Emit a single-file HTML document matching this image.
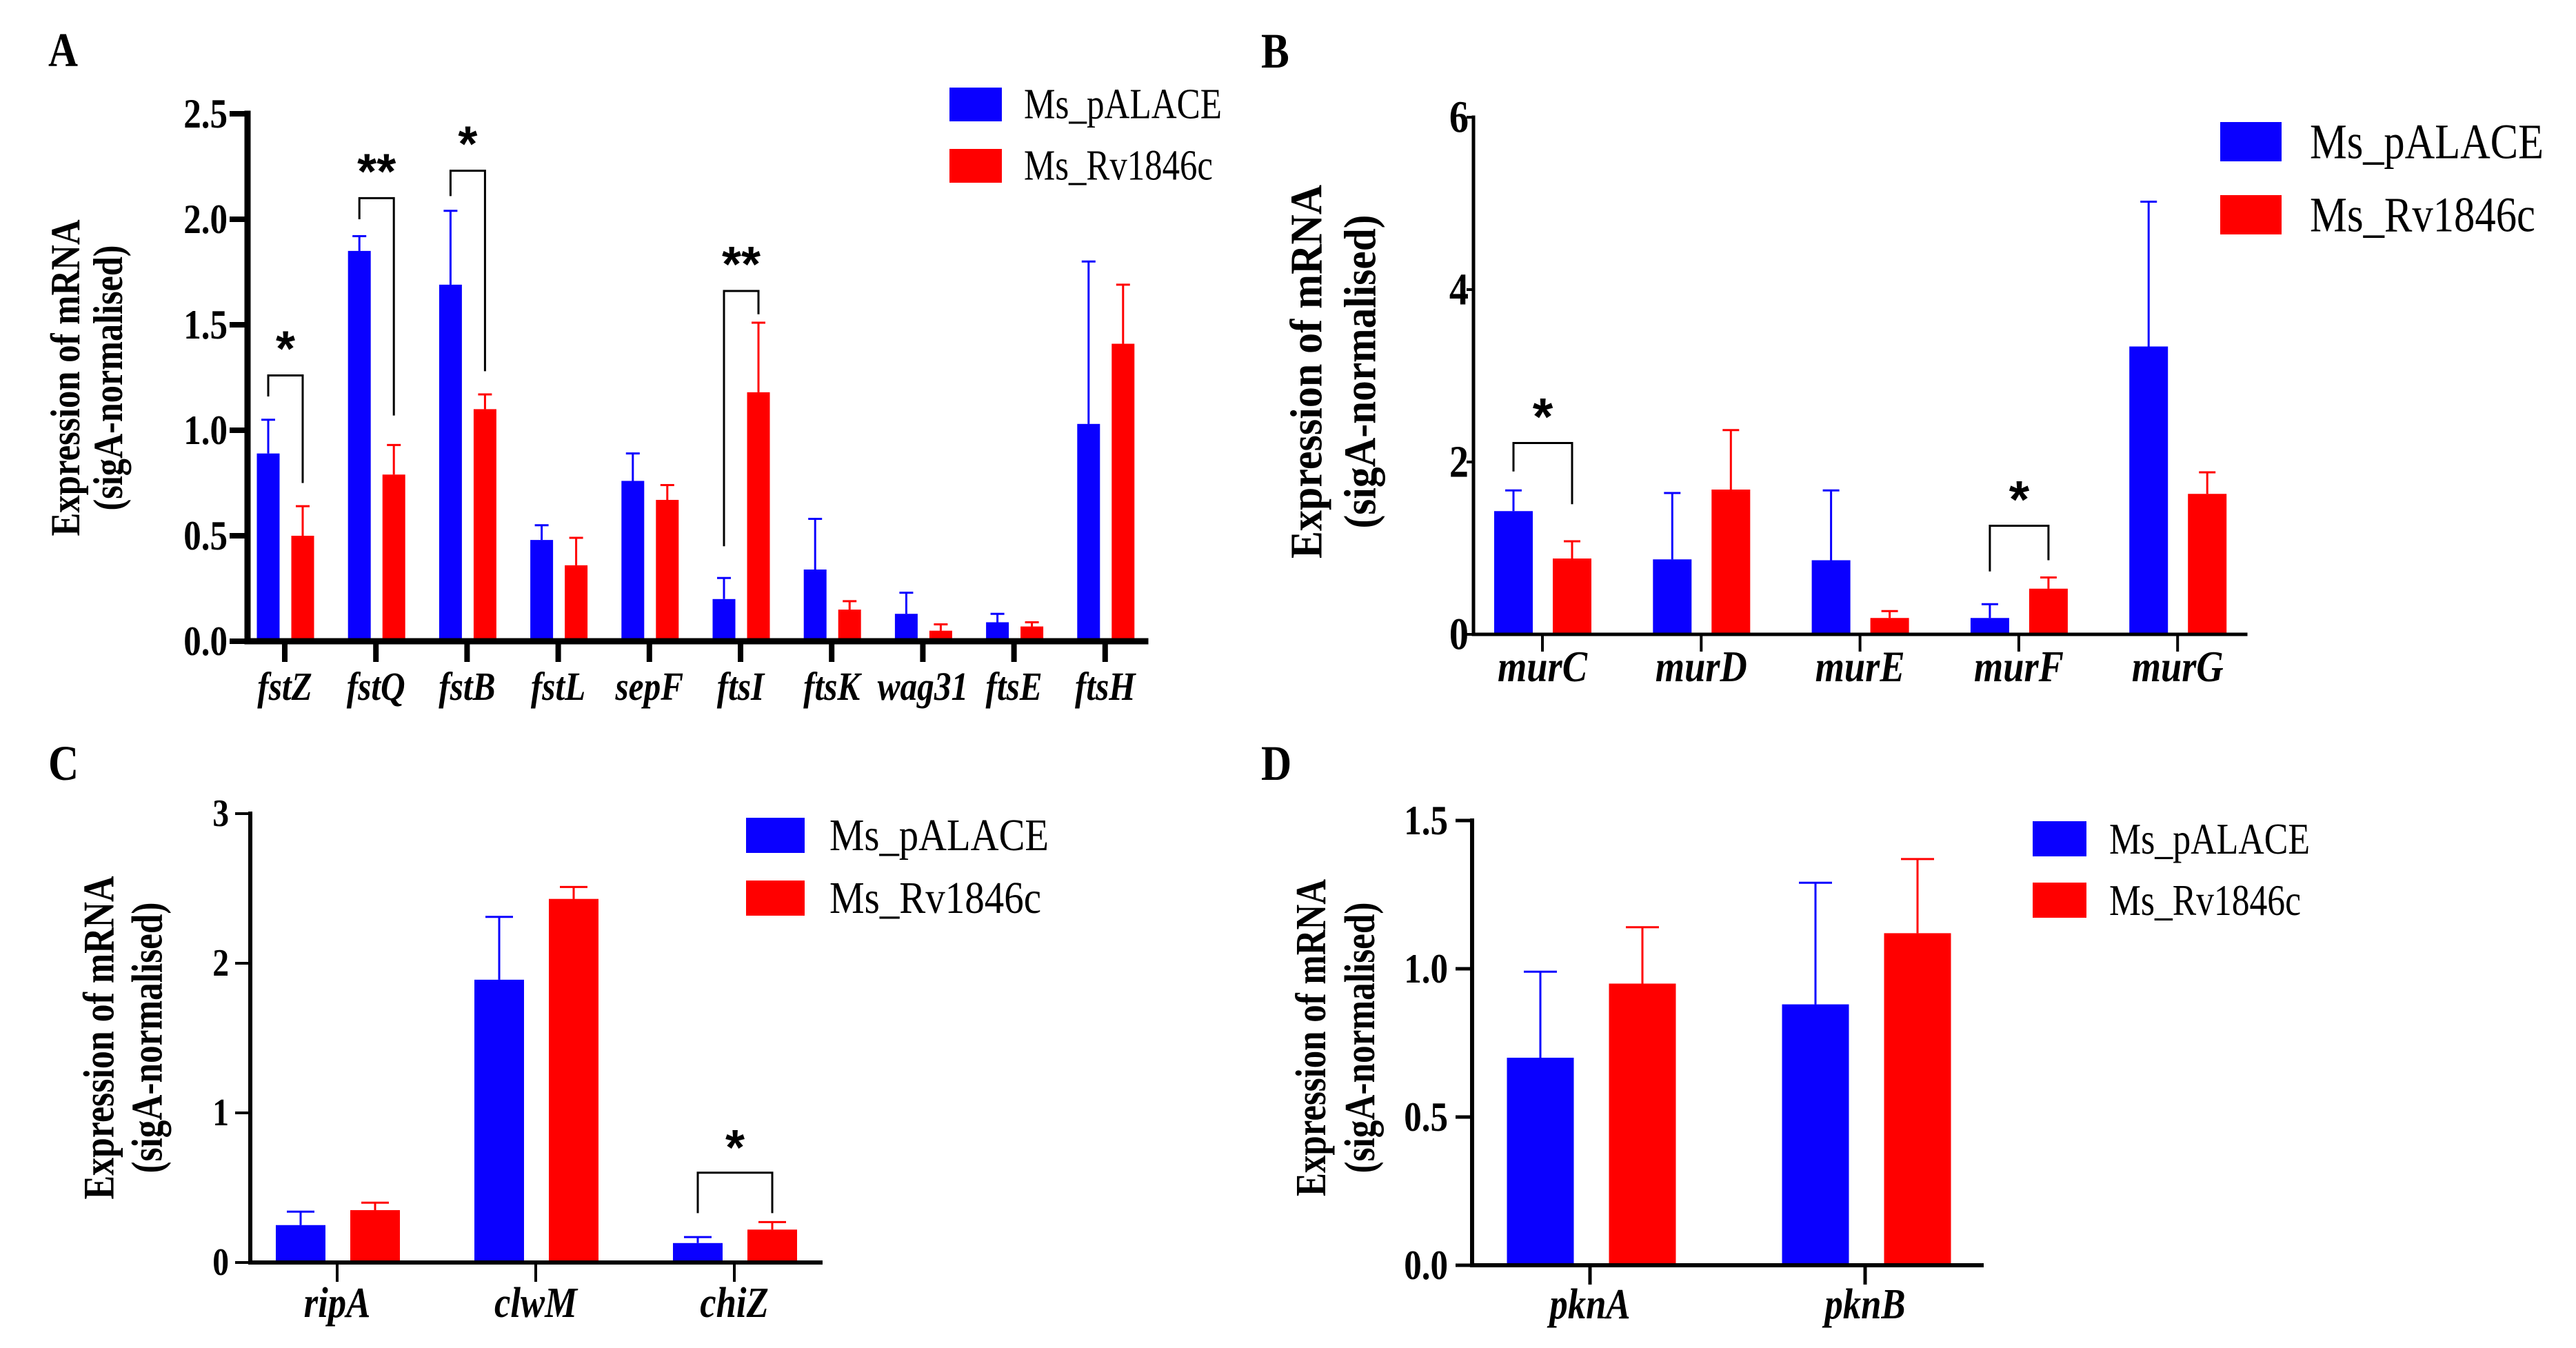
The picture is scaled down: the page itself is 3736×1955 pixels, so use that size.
<!DOCTYPE html>
<html><head><meta charset="utf-8">
<style>
html,body{margin:0;padding:0;background:#fff;}
svg{display:block;}
text{font-family:"Liberation Serif",serif;font-weight:bold;}
</style></head>
<body>
<svg id="fig" width="3736" height="1955" viewBox="0 0 3736 1955" xmlns="http://www.w3.org/2000/svg"></svg>
<script>
// Panel A data
const catsA = ["fstZ","fstQ","fstB","fstL","sepF","ftsI","ftsK","wag31","ftsE","ftsH"];
const blueA = [0.89,1.85,1.69,0.48,0.76,0.20,0.34,0.13,0.09,1.03];
const blueErrA = [1.05,1.92,2.04,0.55,0.89,0.30,0.58,0.23,0.13,1.80];
const redA = [0.50,0.79,1.10,0.36,0.67,1.18,0.15,0.05,0.07,1.41];
const redErrA = [0.64,0.93,1.17,0.49,0.74,1.51,0.19,0.08,0.09,1.69];
const ticksA = ["0.0","0.5","1.0","1.5","2.0","2.5"];
const tickValsA = [0,0.5,1,1.5,2,2.5];
const sigA = [[0,1.26,1.16,0.75,"*"],[1,2.10,2.00,1.07,"**"],[2,2.23,2.11,1.28,"*"],[5,1.66,0.45,1.55,"**"]];
// Panel B data
const catsB = ["murC","murD","murE","murF","murG"];
const blueB = [1.43,0.87,0.86,0.19,3.34];
const blueErrB = [1.67,1.64,1.67,0.35,5.02];
const redB = [0.88,1.68,0.19,0.53,1.63];
const redErrB = [1.08,2.37,0.27,0.66,1.88];
const ticksB = ["0","2","4","6"];
const tickValsB = [0,2,4,6];
const sigB = [[0,2.22,1.89,1.51,"*"],[3,1.26,0.73,0.86,"*"]];
// Panel C data
const catsC = ["ripA","clwM","chiZ"];
const blueC = [0.25,1.89,0.13];
const blueErrC = [0.34,2.31,0.17];
const redC = [0.35,2.43,0.22];
const redErrC = [0.40,2.51,0.27];
const ticksC = ["0","1","2","3"];
const tickValsC = [0,1,2,3];
const sigC = [[2,0.60,0.33,0.33,"*"]];
// Panel D data
const catsD = ["pknA","pknB"];
const blueD = [0.70,0.88];
const blueErrD = [0.99,1.29];
const redD = [0.95,1.12];
const redErrD = [1.14,1.37];
const ticksD = ["0.0","0.5","1.0","1.5"];
const tickValsD = [0,0.5,1,1.5];
const sigD = [];

const NS="http://www.w3.org/2000/svg";
const svg=document.getElementById('fig');
function mk(tag,attrs,parent,txt){
  const e=document.createElementNS(NS,tag);
  for(const k in attrs)e.setAttribute(k,attrs[k]);
  if(txt!==undefined)e.textContent=txt;
  (parent||svg).appendChild(e);return e;
}
function condense(el,f){
  try{const w=el.getComputedTextLength();if(w>0){el.setAttribute('textLength',(w*f).toFixed(1));el.setAttribute('lengthAdjust','spacingAndGlyphs');}}catch(e){}
}
const BLUE="#0a00ff",RED="#ff0000";

function panel(o){
  const g=mk('g',{});
  
  
  const y=v=>o.y0-(v/o.ymax)*(o.y0-o.ytop);
  const cx=i=>o.c0+i*o.step;
  const L=mk('text',{x:o.letter[0],y:o.letter[1],'font-size':o.letter[2]},g,o.id);
  
  
  condense(L,0.85);
  const t1=mk('text',{transform:`translate(${o.title[0]},${o.title[2]}) rotate(-90)`,'text-anchor':'middle','dominant-baseline':'central','font-size':o.title[4],textLength:o.title[5],lengthAdjust:'spacingAndGlyphs'},g,'Expression of mRNA');
  
  
  const t2=mk('text',{transform:`translate(${o.title[1]},${o.title[2]}) rotate(-90)`,'text-anchor':'middle','dominant-baseline':'central','font-size':o.title[4],textLength:o.title[6],lengthAdjust:'spacingAndGlyphs'},g,'(sigA-normalised)');
  
  
  o.cats.forEach((c,i)=>{
    [[o.blue[i],o.blueErr[i],BLUE,-o.off,'pALACE'],[o.red[i],o.redErr[i],RED,o.off2,'Rv1846c']].forEach(s=>{
      const x=cx(i)+s[3];
      const r=mk('rect',{x:x-o.bw/2,y:y(s[0]),width:o.bw,height:o.y0-y(s[0]),fill:s[2]},g);
      
      
      const e=mk('path',{d:`M${x},${y(s[0])}V${y(s[1])}M${x-o.cap},${y(s[1])}H${x+o.cap}`,stroke:s[2],'stroke-width':o.ew,fill:'none'},g);
      
      
    });
    const tk=mk('line',{x1:cx(i),x2:cx(i),y1:o.y0,y2:o.y0+o.xtl,stroke:'#000','stroke-width':o.tw},g);
    
    
    const lb=mk('text',{x:cx(i),y:o.catY,'text-anchor':'middle','font-size':o.catF,'font-style':'italic'},g,c);
    
    
    condense(lb,0.85);
  });
  const ax=mk('path',{d:`M${o.ax},${o.ytop}V${o.y0}H${o.xend}`,stroke:'#000','stroke-width':o.aw,fill:'none','stroke-linecap':'square'},g);
  
  
  o.tickVals.forEach((v,i)=>{
    const t=mk('line',{x1:o.ax-o.ytl,x2:o.ax,y1:y(v),y2:y(v),stroke:'#000','stroke-width':o.tw},g);
    
    
    const l=mk('text',{x:o.tlx,y:y(v),'text-anchor':'end','dominant-baseline':'central','font-size':o.tickF,style:o.sans?'font-family:"Liberation Sans",sans-serif':''},g,o.ticks[i]);
    
    
    condense(l,0.85);
  });
  o.sig.forEach(s=>{
    const xl=cx(s[0])-o.off,xr=cx(s[0])+o.off2;
    const b=mk('path',{d:`M${xl},${y(s[2])}V${y(s[1])}H${xr}V${y(s[3])}`,stroke:'#000','stroke-width':3,fill:'none'},g);
    
    
    const st=mk('text',{x:(xl+xr)/2,y:y(s[1])-o.starGap,'text-anchor':'middle','font-size':o.starF,style:'font-family:"Liberation Sans",sans-serif'},g,s[4]);
    
    
  });
  [[BLUE,'Ms_pALACE',o.leg[1],o.leg[5]],[RED,'Ms_Rv1846c',o.leg[2],o.leg[6]]].forEach(s=>{
    const r=mk('rect',{x:o.leg[0],y:s[2],width:o.leg[3],height:o.leg[4],fill:s[0]},g);
    
    
    const t=mk('text',{x:o.leg[7],y:s[2]+o.leg[4]/2,'dominant-baseline':'central','font-size':o.leg[8],style:'font-weight:normal',textLength:s[3],lengthAdjust:'spacingAndGlyphs'},g,s[1]);
    
    
  });
}

panel({id:'A',cats:catsA,blue:blueA,blueErr:blueErrA,red:redA,redErr:redErrA,ticks:ticksA,tickVals:tickValsA,sig:sigA,
  ymax:2.5,y0:930,ytop:165,ax:359,xend:1661,c0:413,step:132.2,off:24,off2:26,bw:33,cap:10,ew:3,aw:9,tw:8,ytl:26,xtl:30,
  tlx:330,tickF:60,catY:1015,catF:58,starF:72,starGap:14,
  letter:[70,96,70],title:[95,157,548,0,60,459,385],
  leg:[1377,127,216,76,49,287,274,1485,62]});
panel({id:'B',cats:catsB,blue:blueB,blueErr:blueErrB,red:redB,redErr:redErrB,ticks:ticksB,tickVals:tickValsB,sig:sigB,
  ymax:6,y0:920,ytop:170,ax:2137,xend:3257,c0:2237,step:230.3,off:42,off2:43,bw:56,cap:12,ew:3,aw:5,tw:4,ytl:10,xtl:25,
  tlx:2130,tickF:66,catY:988,catF:64,starF:76,starGap:12,
  letter:[1829,98,72],title:[1895,1973,539,0,66,542,455],
  leg:[3220,177,283,89,57,339,327,3350,72]});
panel({id:'C',cats:catsC,blue:blueC,blueErr:blueErrC,red:redC,redErr:redErrC,ticks:ticksC,tickVals:tickValsC,sig:sigC,
  ymax:3,y0:1831,ytop:1180,ax:363,xend:1190,c0:489,step:288,off:53,off2:55,bw:72,cap:20,ew:3,aw:6,tw:4,ytl:22,xtl:28,
  tlx:332,tickF:56,catY:1910,catF:62,starF:72,starGap:12,
  letter:[70,1131,72],title:[143,213,1505,0,64,469,393],
  leg:[1082,1186,1277,85,51,318,307,1203,66]});
panel({id:'D',cats:catsD,blue:blueD,blueErr:blueErrD,red:redD,redErr:redErrD,ticks:ticksD,tickVals:tickValsD,sig:sigD,
  ymax:1.5,y0:1835,ytop:1190,ax:2135,xend:2874,c0:2306,step:399,off:72,off2:76,bw:97,cap:24,ew:3,aw:6,tw:5,ytl:24,xtl:28,
  tlx:2100,tickF:60,catY:1912,catF:62,starF:64,starGap:14,
  letter:[1829,1131,72],title:[1902,1973,1505,0,62,460,393],
  leg:[2948,1191,1280,78,51,291,278,3059,64]});
</script>
</body></html>
